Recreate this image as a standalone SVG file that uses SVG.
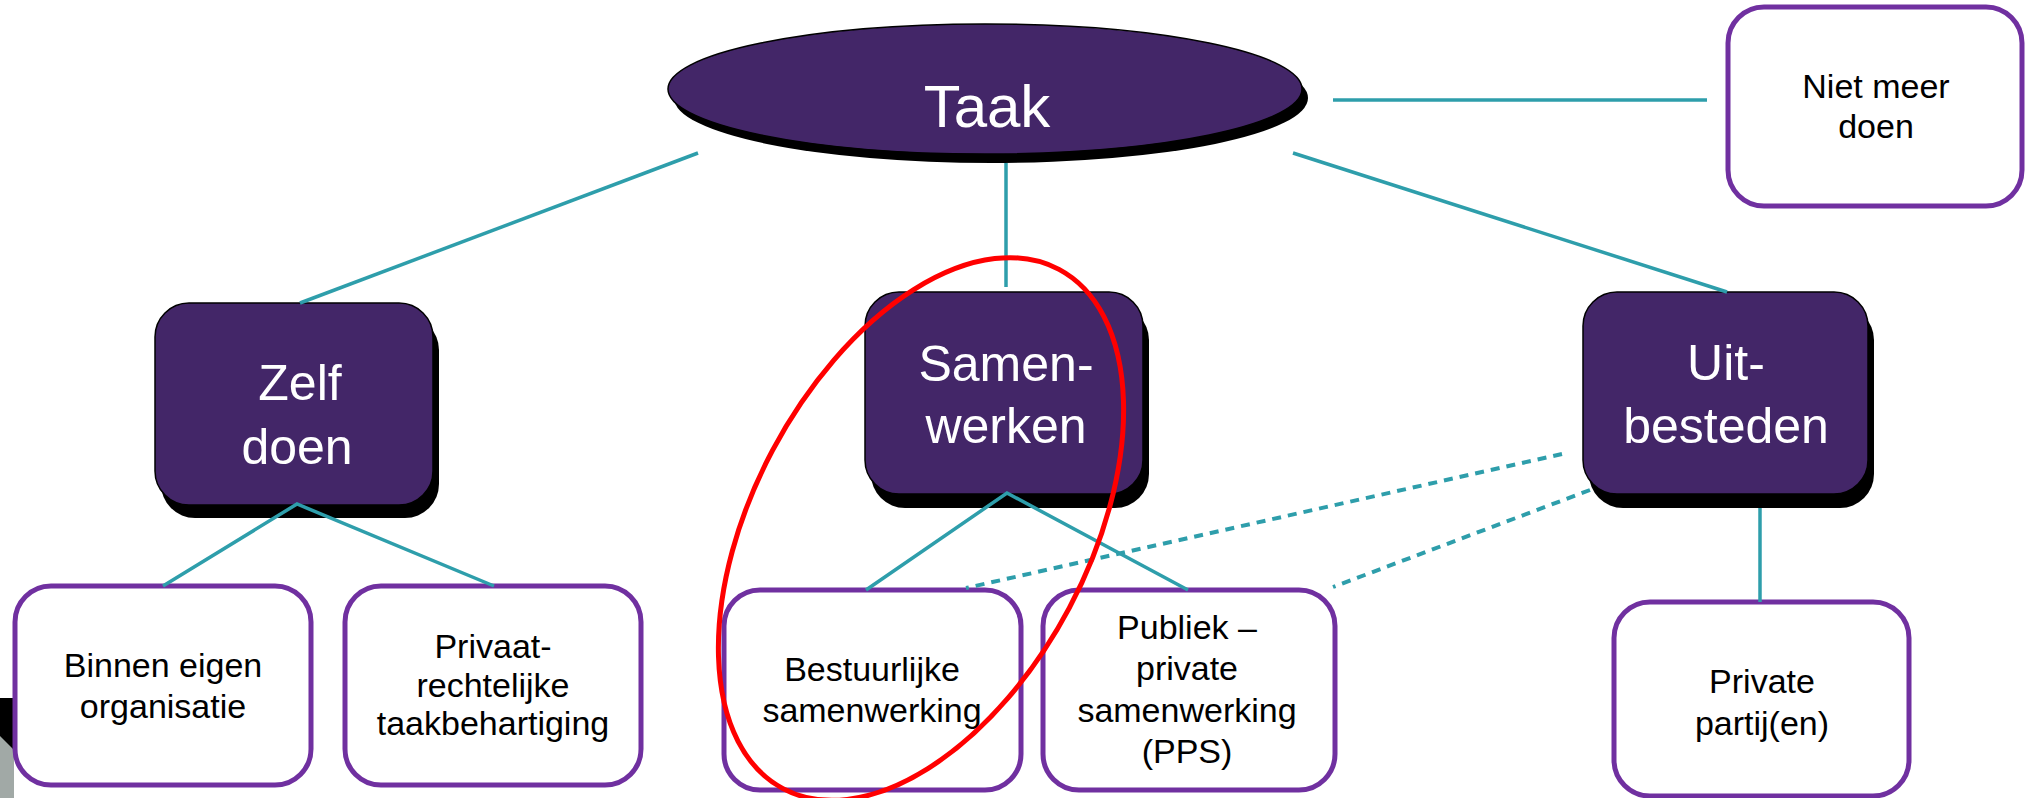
<svg xmlns="http://www.w3.org/2000/svg" width="2027" height="798" viewBox="0 0 2027 798">
<style>
.dark{fill:#432668;stroke:#000;stroke-width:1.5}
.shadow{fill:#000}
.white{fill:#fff;stroke:#7030A0;stroke-width:5}
.lt{font-family:"Liberation Sans",Arial,sans-serif;fill:#fff;text-anchor:middle}
.dt{font-family:"Liberation Sans",Arial,sans-serif;fill:#000;text-anchor:middle;font-size:34px}
.con{stroke:#2E9EAB;stroke-width:3.5;fill:none}
.dash{stroke:#2E9EAB;stroke-width:4;fill:none;stroke-dasharray:9 7}
</style>
<rect width="2027" height="798" fill="#fff"/>
<g id="artifact">
<rect x="0" y="698" width="14" height="100" fill="#000"/>
<polygon points="0,736 0,798 14,798 14,750" fill="#A1A9A6"/>
</g>
<g id="taak">
<ellipse class="shadow" cx="991" cy="98" rx="317" ry="65"/>
<ellipse class="dark" cx="985" cy="89" rx="317" ry="65"/>
<text class="lt" x="987" y="127" font-size="60">Taak</text>
</g>
<g id="niet-meer-doen">
<rect class="white" x="1728" y="7" width="294" height="199" rx="36"/>
<text class="dt" x="1876" y="98">Niet meer</text>
<text class="dt" x="1876" y="138">doen</text>
</g>
<g id="zelf-doen">
<rect class="shadow" x="161" y="316" width="278" height="202" rx="34"/>
<rect class="dark" x="155" y="303" width="278" height="202" rx="34"/>
<text class="lt" x="300" y="400" font-size="50">Zelf</text>
<text class="lt" x="297" y="464" font-size="50">doen</text>
</g>
<g id="samenwerken">
<rect class="shadow" x="871" y="306" width="278" height="202" rx="34"/>
<rect class="dark" x="865" y="292" width="278" height="202" rx="34"/>
<text class="lt" x="1006" y="381" font-size="50">Samen-</text>
<text class="lt" x="1006" y="443" font-size="50">werken</text>
</g>
<g id="uitbesteden">
<rect class="shadow" x="1589" y="306" width="285" height="202" rx="34"/>
<rect class="dark" x="1583" y="292" width="285" height="202" rx="34"/>
<text class="lt" x="1726" y="380" font-size="50">Uit-</text>
<text class="lt" x="1726" y="443" font-size="50">besteden</text>
</g>
<g id="binnen-eigen-organisatie">
<rect class="white" x="15" y="586" width="296" height="199" rx="36"/>
<text class="dt" x="163" y="677">Binnen eigen</text>
<text class="dt" x="163" y="718">organisatie</text>
</g>
<g id="privaatrechtelijke">
<rect class="white" x="345" y="586" width="296" height="199" rx="36"/>
<text class="dt" x="493" y="658" font-size="30">Privaat-</text>
<text class="dt" x="493" y="697" font-size="30">rechtelijke</text>
<text class="dt" x="493" y="735" font-size="30">taakbehartiging</text>
</g>
<g id="bestuurlijke-samenwerking">
<rect class="white" x="724" y="590" width="297" height="200" rx="36"/>
<text class="dt" x="872" y="681">Bestuurlijke</text>
<text class="dt" x="872" y="722">samenwerking</text>
</g>
<g id="pps">
<rect class="white" x="1043" y="590" width="292" height="200" rx="36"/>
<text class="dt" x="1187" y="639">Publiek –</text>
<text class="dt" x="1187" y="680">private</text>
<text class="dt" x="1187" y="722">samenwerking</text>
<text class="dt" x="1187" y="763">(PPS)</text>
</g>
<g id="private-partijen">
<rect class="white" x="1614" y="602" width="295" height="194" rx="36"/>
<text class="dt" x="1762" y="693">Private</text>
<text class="dt" x="1762" y="735">partij(en)</text>
</g>
<g id="connectors">
<line class="con" x1="698" y1="153" x2="300" y2="303"/>
<line class="con" x1="1006" y1="163" x2="1006" y2="287"/>
<line class="con" x1="1293" y1="153" x2="1727" y2="292"/>
<line class="con" x1="1333" y1="100" x2="1707" y2="100"/>
<polyline class="con" points="163,586 297,504 494,586"/>
<polyline class="con" points="866,590 1007,493 1188,590"/>
<line class="con" x1="1760" y1="508" x2="1760" y2="602"/>
<line class="dash" x1="1562" y1="454" x2="966" y2="588"/>
<line class="dash" x1="1590" y1="490" x2="1333" y2="587"/>
</g>
<g id="highlight">
<ellipse cx="921" cy="529" rx="168" ry="294" transform="rotate(28 921 529)" fill="none" stroke="#FF0000" stroke-width="5"/>
</g>
</svg>
